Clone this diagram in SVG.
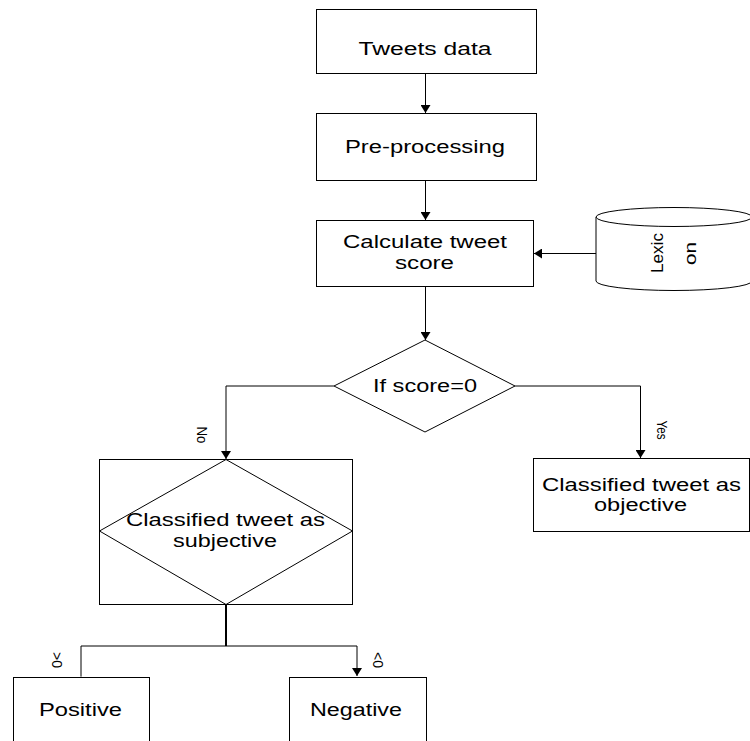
<svg xmlns="http://www.w3.org/2000/svg" width="750" height="741" viewBox="0 0 750 741">
  <style>
    .shape { fill: #fff; stroke: #000; stroke-width: 1; }
    .line { fill: none; stroke: #000; stroke-width: 1; }
    .label { font-family: "Liberation Sans", Arial, sans-serif; font-size: 17.5px; fill: #000; text-anchor: middle; }
    .small { font-family: "Liberation Sans", Arial, sans-serif; font-size: 14px; fill: #000; text-anchor: middle; }
  </style>
  <defs>
    <marker id="arrow" viewBox="0 0 8 10" refX="8" refY="5" markerWidth="8" markerHeight="10" markerUnits="userSpaceOnUse" orient="auto">
      <path d="M0,0 L8,5 L0,10 z" fill="#000"/>
    </marker>
  </defs>
  <rect width="750" height="741" fill="#fff"/>

  <!-- connectors -->
  <g id="connectors">
    <line class="line" x1="425.5" y1="73" x2="425.5" y2="113" marker-end="url(#arrow)"/>
    <line class="line" x1="425.5" y1="180" x2="425.5" y2="220" marker-end="url(#arrow)"/>
    <line class="line" x1="596" y1="253.5" x2="534" y2="253.5" marker-end="url(#arrow)"/>
    <line class="line" x1="425.5" y1="287" x2="425.5" y2="340" marker-end="url(#arrow)"/>
    <polyline class="line" points="334,386 226,386 226,459" marker-end="url(#arrow)"/>
    <polyline class="line" points="515,386 640.5,386 640.5,458" marker-end="url(#arrow)"/>
    <line class="line" x1="226" y1="604" x2="226" y2="646" style="stroke-width:2"/>
    <polyline class="line" points="81,676 81,646 357,646 357,676" marker-start="url(#arrow)" marker-end="url(#arrow)"/>
    <text class="small" transform="translate(197,435) rotate(90)" textLength="17" lengthAdjust="spacingAndGlyphs">No</text>
    <text class="small" transform="translate(657,430) rotate(90)" textLength="19" lengthAdjust="spacingAndGlyphs">Yes</text>
    <text class="small" transform="translate(52,660) rotate(90)" textLength="16" lengthAdjust="spacingAndGlyphs">&gt;0</text>
    <text class="small" transform="translate(373,660) rotate(90)" textLength="16" lengthAdjust="spacingAndGlyphs">&lt;0</text>
  </g>

  <g id="tweets-data">
    <rect class="shape" x="316.5" y="9.5" width="220" height="64"/>
    <text class="label" x="425" y="55" textLength="133" lengthAdjust="spacingAndGlyphs">Tweets data</text>
  </g>

  <g id="pre-processing">
    <rect class="shape" x="316.5" y="113.5" width="220" height="67"/>
    <text class="label" x="425" y="153" textLength="160" lengthAdjust="spacingAndGlyphs">Pre-processing</text>
  </g>

  <g id="calculate-score">
    <rect class="shape" x="316.5" y="220.5" width="217" height="66"/>
    <text class="label" x="425" y="248" textLength="164" lengthAdjust="spacingAndGlyphs">Calculate tweet</text>
    <text class="label" x="424.5" y="269" textLength="59" lengthAdjust="spacingAndGlyphs">score</text>
  </g>

  <g id="lexicon">
    <path class="shape" d="M596,217 L596,281 A78,9.5 0 0 0 752,281 L752,217"/>
    <ellipse class="shape" cx="674" cy="217" rx="78" ry="9.5"/>
    <text class="label" transform="translate(663,253) rotate(-90)" style="font-size:16px" textLength="40" lengthAdjust="spacingAndGlyphs">Lexic</text>
    <text class="label" transform="translate(696,253.5) rotate(-90)" style="font-size:16px" textLength="23" lengthAdjust="spacingAndGlyphs">on</text>
  </g>

  <g id="score-check">
    <polygon class="shape" points="425,340 515,386 425,432 334,386"/>
    <text class="label" x="425" y="392" textLength="104" lengthAdjust="spacingAndGlyphs">If score=0</text>
  </g>

  <g id="objective">
    <rect class="shape" x="533.5" y="458.5" width="216" height="73"/>
    <text class="label" x="641.5" y="491" textLength="199" lengthAdjust="spacingAndGlyphs">Classified tweet as</text>
    <text class="label" x="640.5" y="511" textLength="93" lengthAdjust="spacingAndGlyphs">objective</text>
  </g>

  <g id="subjective">
    <rect class="shape" x="99.5" y="459.5" width="253" height="145"/>
    <polygon class="line" points="226,459.5 352.5,531 226,604.5 99.5,531"/>
    <text class="label" x="225.5" y="526" textLength="199" lengthAdjust="spacingAndGlyphs">Classified tweet as</text>
    <text class="label" x="225" y="547" textLength="104" lengthAdjust="spacingAndGlyphs">subjective</text>
  </g>

  <g id="positive">
    <rect class="shape" x="13.5" y="677.5" width="136" height="80"/>
    <text class="label" x="80.5" y="716" textLength="83" lengthAdjust="spacingAndGlyphs">Positive</text>
  </g>

  <g id="negative">
    <rect class="shape" x="289.5" y="677.5" width="137" height="80"/>
    <text class="label" x="356" y="716" textLength="92" lengthAdjust="spacingAndGlyphs">Negative</text>
  </g>
</svg>
